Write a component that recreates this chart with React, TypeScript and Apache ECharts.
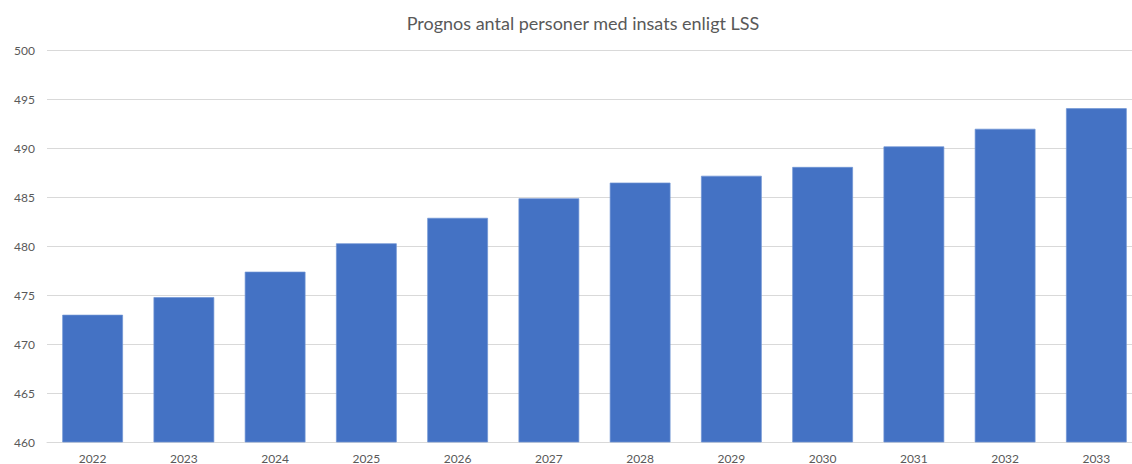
import React, { useEffect, useRef } from "react";
import * as echarts from "echarts";

const title = "Prognos antal personer med insats enligt LSS";
const years = ["2022", "2023", "2024", "2025", "2026", "2027", "2028", "2029", "2030", "2031", "2032", "2033"];
const values = [473.0, 474.8, 477.4, 480.3, 482.9, 484.9, 486.5, 487.2, 488.1, 490.2, 492.0, 494.1];
const yMin = 460;
const yMax = 500;
const yStep = 5;

export default function App() {
  const ref = useRef<HTMLDivElement>(null);
  useEffect(() => {
    if (!ref.current) return;
    const chart = echarts.init(ref.current, undefined, { renderer: "svg" });
    const font = "Lato, 'Open Sans', sans-serif";
    chart.setOption({
      animation: false,
      title: {
        text: title,
        left: 578,
        textAlign: "center",
        top: 9,
        textStyle: { fontFamily: font, fontSize: 18, fontWeight: "normal", color: "#595959" },
      },
      grid: { left: 47, right: 0, top: 50.5, bottom: 21.3, containLabel: false },
      xAxis: {
        type: "category",
        data: years,
        axisLine: { lineStyle: { color: "#d9d9d9" } },
        axisTick: { show: false },
        axisLabel: { color: "#595959", fontFamily: font, fontSize: 12, margin: 10 },
      },
      yAxis: {
        type: "value",
        min: yMin,
        max: yMax,
        interval: yStep,
        axisLine: { show: false },
        axisTick: { show: false },
        splitLine: { lineStyle: { color: "#d9d9d9" } },
        axisLabel: { color: "#595959", fontFamily: font, fontSize: 12, margin: 12 },
      },
      series: [
        {
          type: "bar",
          data: values,
          barCategoryGap: "33.5%",
          itemStyle: { color: "#4472C4", borderColor: "#6f93d4", borderWidth: 0.7 },
        },
      ],
    });
    return () => chart.dispose();
  }, []);
  return <div ref={ref} style={{ position: "fixed", left: 0, top: 0, width: 1142, height: 464, background: "#fff" }} />;
}
